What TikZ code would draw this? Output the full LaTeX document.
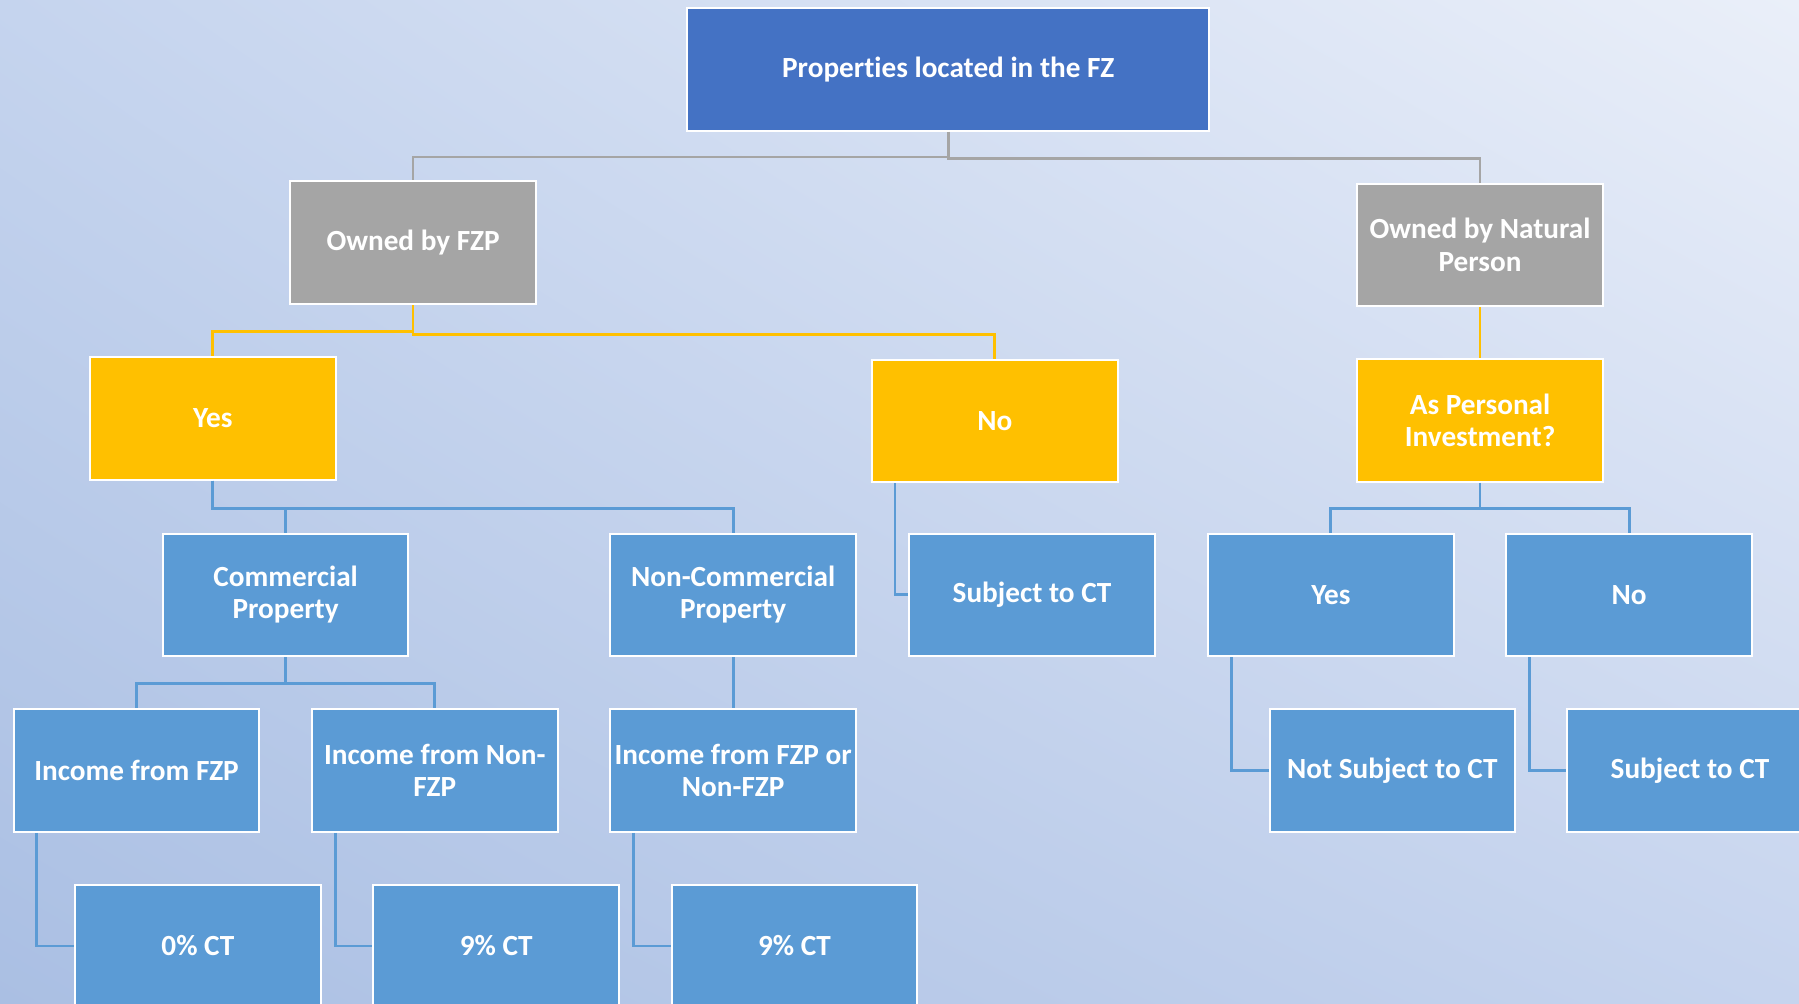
\documentclass[tikz,border=0pt]{standalone}
\usepackage{fontspec}
\setmainfont{Carlito}[RawFeature={-liga,-calt,-dlig}]
\usepackage{xcolor}
\usetikzlibrary{shadings}
\definecolor{topblue}{HTML}{4472C4}
\definecolor{boxgray}{HTML}{A5A5A5}
\definecolor{boxgold}{HTML}{FFC000}
\definecolor{boxblue}{HTML}{5B9BD5}
\definecolor{bgUL}{HTML}{C5D4EE}
\definecolor{bgUR}{HTML}{EAEFF9}
\definecolor{bgLL}{HTML}{AABFE3}
\definecolor{bgLR}{HTML}{C6D4EE}

\begin{document}
\begin{tikzpicture}[x=0.2mm, y=-0.2mm,
  box/.style={draw=white, line width=1pt, inner sep=0pt, minimum width=42.8mm, minimum height=21.4mm,
    align=center, text=white, font=\fontsize{14.5}{16}\selectfont\bfseries},
  graybox/.style={box, fill=boxgray},
  goldbox/.style={box, fill=boxgold},
  bluebox/.style={box, fill=boxblue},
  grayline/.style={draw=boxgray, line width=1.4pt},
  goldline/.style={draw=boxgold, line width=1.4pt},
  blueline/.style={draw=boxblue, line width=1.4pt}]
  \useasboundingbox (0,0) rectangle (1568,875);
  \shade[upper left=bgUL, upper right=bgUR, lower left=bgLL, lower right=bgLR] (0,0) rectangle (1568,875);

  \node[box, fill=topblue, minimum width=91mm] (top) at (826.5,60.5) {Properties located in the FZ};
  \node[graybox] (fzp) at (360,211.5) {Owned by FZP};
  \node[graybox] (nat) at (1290,213.5) {Owned by Natural\\Person};
  \node[goldbox] (yes) at (185.5,364.5) {Yes};
  \node[goldbox] (no) at (867,367) {No};
  \node[goldbox] (pers) at (1290,366.5) {As Personal\\Investment?};
  \node[bluebox] (comm) at (249,518.5) {Commercial\\Property};
  \node[bluebox] (noncomm) at (639,518.5) {Non-Commercial\\Property};
  \node[bluebox] (subj) at (899.5,518.5) {Subject to CT};
  \node[bluebox] (pyes) at (1160,518.5) {Yes};
  \node[bluebox] (pno) at (1420,518.5) {No};
  \node[bluebox] (incfzp) at (119,671.5) {Income from FZP};
  \node[bluebox] (incnon) at (379,671.5) {Income from Non-\\FZP};
  \node[bluebox] (incany) at (639,671.5) {Income from FZP or\\Non-FZP};
  \node[bluebox] (notsubj) at (1213.5,671.5) {Not Subject to CT};
  \node[bluebox] (subjnat) at (1473,671.5) {Subject to CT};
  \node[bluebox] (ctzero) at (172.5,824.5) {0\% CT};
  \node[bluebox] (ctnine) at (432.5,824.5) {9\% CT};
  \node[bluebox] (ctnineb) at (692.5,824.5) {9\% CT};

  \draw[grayline] (top.south) -- ++(0,22) -| (fzp.north);
  \draw[grayline] (top.south) -- ++(0,23) -| (nat.north);
  \draw[goldline] (fzp.south) -- ++(0,23) -| (yes.north);
  \draw[goldline] (fzp.south) -- ++(0,26) -| (no.north);
  \draw[goldline] (nat.south) -- (pers.north);
  \draw[blueline] (yes.south) -- ++(0,24) -| (comm.north);
  \draw[blueline] (yes.south) -- ++(0,24) -| (noncomm.north);
  \draw[blueline] (pers.south) -- ++(0,22) -| (pyes.north);
  \draw[blueline] (pers.south) -- ++(0,22) -| (pno.north);
  \draw[blueline] (comm.south) -- ++(0,23) -| (incfzp.north);
  \draw[blueline] (comm.south) -- ++(0,23) -| (incnon.north);
  \draw[blueline] (noncomm.south) -- (incany.north);
  \draw[blueline] ([xshift=4.2mm]no.south west) |- (subj.west);
  \draw[blueline] ([xshift=4.2mm]incfzp.south west) |- (ctzero.west);
  \draw[blueline] ([xshift=4.2mm]incnon.south west) |- (ctnine.west);
  \draw[blueline] ([xshift=4.2mm]incany.south west) |- (ctnineb.west);
  \draw[blueline] ([xshift=4.2mm]pyes.south west) |- (notsubj.west);
  \draw[blueline] ([xshift=4.2mm]pno.south west) |- (subjnat.west);
\end{tikzpicture}
\end{document}
